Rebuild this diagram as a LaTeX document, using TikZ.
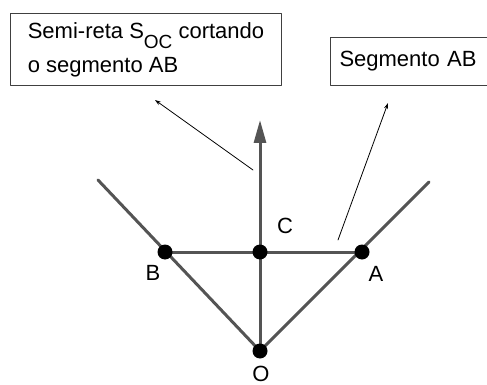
\documentclass[tikz,border=0pt]{standalone}
\usepackage{fontspec}
\setmainfont{Liberation Sans}
\usetikzlibrary{arrows.meta}

\begin{document}
\begin{tikzpicture}[x=1pt,y=-1pt,>=Stealth,
    line cap=round,line join=round,
    every node/.style={font=\fontsize{22}{34}\selectfont},
    caixa/.style={draw=black!75,line width=1pt,align=left,anchor=north west,
      inner ysep=4pt},
    reta/.style={draw=black!67,line width=3pt},
    seta/.style={->,line width=.8pt,>={Stealth[length=6pt,width=4pt]}},
    rotulo/.style={inner sep=0pt}]
    \useasboundingbox (0,0) rectangle (487,385);

    % The two caption boxes.
    \node[caixa,minimum width=271pt,minimum height=72pt] (semireta) at (10,13)
      {Semi-reta S\raisebox{-10pt}{\fontsize{19}{19}\selectfont OC} cortando\\
       o segmento AB};
    \node[caixa,text width=142pt,inner xsep=9pt,minimum height=48pt]
      (segmento) at (330,37) {Segmento AB};

    % The points of the figure.
    \coordinate (O) at (260,351);
    \coordinate (B) at (165,252);
    \coordinate (C) at (260,252);
    \coordinate (A) at (362,252);
    \coordinate (fimB) at (98,180);
    \coordinate (fimA) at (429,182);
    \coordinate (topo) at (260,120);

    % Sides of the angle, the segment AB and the ray OC.
    \draw[reta] (O) -- (fimB);
    \draw[reta] (O) -- (fimA);
    \draw[reta] (B) -- (A);
    \draw[reta,-{Triangle[length=23pt,width=12pt]}] (O) -- (topo);

    \foreach \p in {O,B,C,A}
      \fill (\p) circle (7.5);

    \node[rotulo] (rotC) at (285,226) {C};
    \node[rotulo] (rotB) at (153,273) {B};
    \node[rotulo] (rotA) at (376,274) {A};
    \node[rotulo] (rotO) at (261,373.5) {O};

    % Pointers towards the boxes.
    \coordinate (ini1) at (253,170);
    \coordinate (fim1) at (155,100);
    \coordinate (ini2) at (338,240);
    \coordinate (fim2) at (388,103);
    \draw[seta] (ini1) -- (fim1);
    \draw[seta] (ini2) -- (fim2);
  \end{tikzpicture}
\end{document}
